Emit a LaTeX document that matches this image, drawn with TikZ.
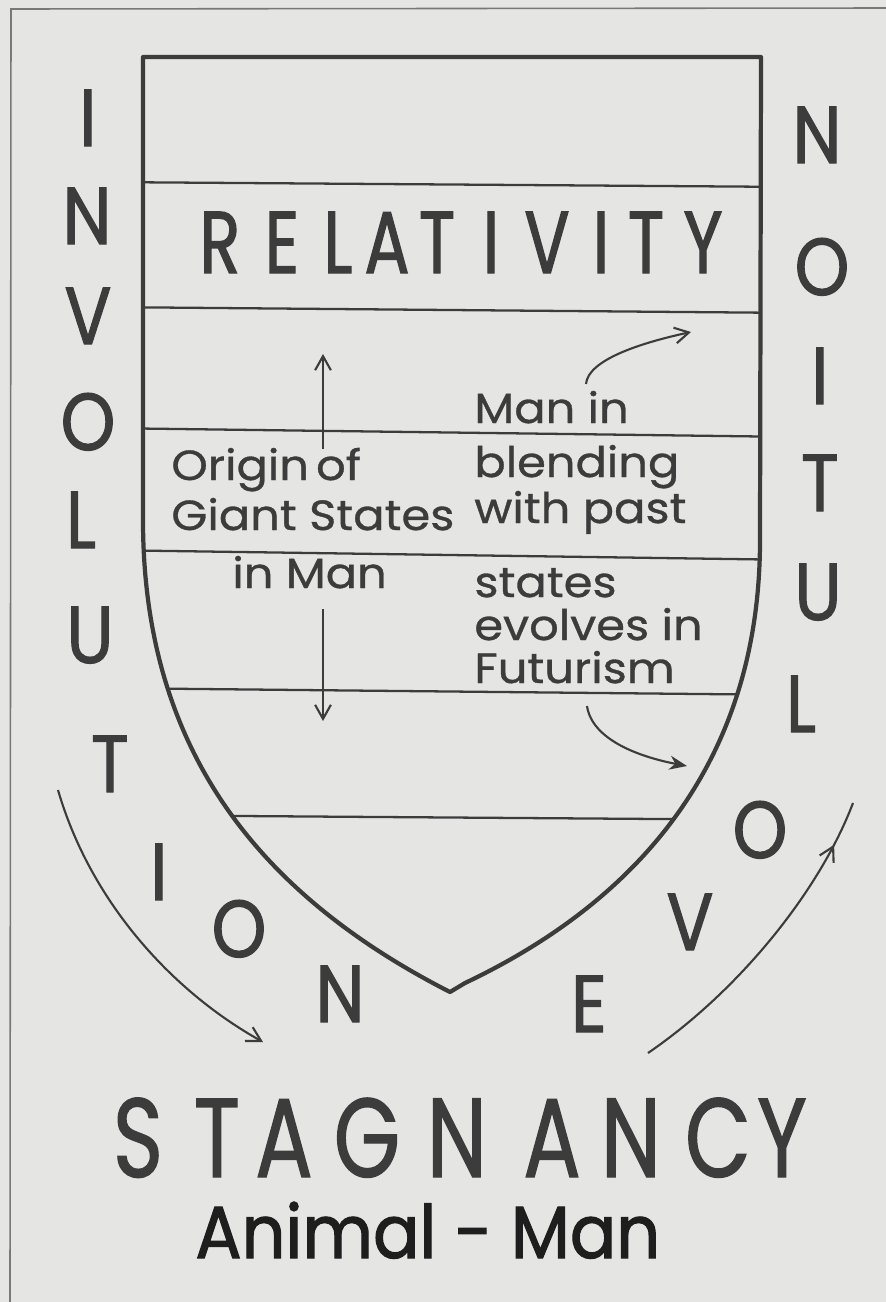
\documentclass[tikz,border=0pt]{standalone}
\usepackage{fontspec}
\usetikzlibrary{arrows.meta,decorations.markings}
\newfontfamily\handanim[FakeStretch=0.93,FakeBold=1.6]{Poppins}
\newfontfamily\handbody[FakeStretch=1.1,FakeBold=0.8]{Poppins}
\newfontfamily\capsinv[FakeStretch=0.86,FakeBold=1.4]{Poppins}
\newfontfamily\capsrel[FakeStretch=0.76,FakeBold=1.4]{Poppins}
\newfontfamily\capsstag[FakeStretch=0.76,FakeBold=1.0]{Poppins}
\definecolor{paper}{RGB}{229,230,227}
\definecolor{ink}{RGB}{60,60,60}
\definecolor{inkdark}{RGB}{30,30,30}
\definecolor{framegray}{RGB}{120,120,120}
\begin{document}
\begin{tikzpicture}[x=0.02cm,y=-0.02cm,
  bigletter/.style={font=\capsinv\fontsize{46}{46}\selectfont, text=ink, anchor=base, inner sep=0pt},
  relletter/.style={font=\capsrel\fontsize{50}{50}\selectfont, text=ink, anchor=base, inner sep=0pt},
  stagletter/.style={font=\capsstag\fontsize{64}{64}\selectfont, text=ink, anchor=base, inner sep=0pt},
  bodytext/.style={font=\handbody\fontsize{24}{24}\selectfont, text=ink, anchor=base west, inner sep=0pt},
  animtext/.style={font=\handanim\fontsize{42}{42}\selectfont, text=inkdark, anchor=base west, inner sep=0pt},
  shieldedge/.style={draw=ink, line width=2.4pt, line join=round},
  bandrule/.style={draw=ink, line width=1.3pt},
  barb/.style={draw=ink, line width=1.2pt, -{Straight Barb[length=8pt,width=9pt]}},
  solidtip/.style={draw=ink, line width=1.2pt, -{Stealth[length=10pt,width=8pt]}}]

\fill[paper] (0,0) rectangle (886,1302);
\useasboundingbox (0,0) rectangle (886,1302);

% page frame
\coordinate (fc) at (11,9);
\coordinate (fr) at (886,8);
\coordinate (fb) at (10,1302);
\draw[framegray, line width=0.9pt] (fr) -- (fc) -- (fb);

% bands inside the shield
\begin{scope}
  \clip (143,57) -- (761,57) -- (760,540) .. controls (760,760) and (640,900) .. (465,983)
        -- (450,992) .. controls (270,900) and (143,760) .. (143,520) -- cycle;
  \foreach \a/\b [count=\i] in {182/187,307/313,428/437,550/560,688/695,815/820}{
    \coordinate (bl\i) at (100,\a);
    \coordinate (br\i) at (800,\b);
    \draw[bandrule] (bl\i) -- (br\i);
  }
\end{scope}

% shield outline
\draw[shieldedge] (143,57) -- (761,57) -- (760,540) .. controls (760,760) and (640,900) .. (465,983)
        -- (450,992) .. controls (270,900) and (143,760) .. (143,520) -- cycle;

% RELATIVITY
\foreach \x/\l [count=\i] in {220/R,282/E,338/L,387/A,437/T,491/I,547/V,601/I,646/T,703/Y}{
  \node[relletter] (rel\i) at (\x,273) {\l};
}

% INVOLUTION (left and bottom)
\foreach \x/\y/\l [count=\i] in {88/146/I,87/244/N,88/344/V,88/450/O,81/548/L,90/663/U,110/792/T,159/900/I,239/957/O,340/1022/N}{
  \node[bigletter] (inv\i) at (\x,\y) {\l};
}
% EVOLUTION (bottom and right, read upwards)
\foreach \x/\y/\l [count=\i] in {589/1032/E,690/950/V,760/858/O,801/732/L,818/620/U,820/511/T,820/404/I,822/295/O,817/163/N}{
  \node[bigletter] (evo\i) at (\x,\y) {\l};
}

% STAGNANCY
\foreach \x/\l [count=\i] in {138/S,217/T,284/A,367/G,457/N,552/A,631/N,718/C,782/Y}{
  \node[stagletter] (stag\i) at (\x,1177) {\l};
}

% Animal - Man
\node[animtext] (animal) at (195,1258) {Animal - Man};

% texts in the shield
\node[bodytext] (t1) at (171,480) {Origin\hspace{-3pt} of};
\node[bodytext] (t2) at (171,530) {Giant States};
\node[bodytext] (t3) at (232,588) {in Man};
\node[bodytext] (m1) at (474,423) {Man in};
\node[bodytext] (m2) at (474,477) {blending};
\node[bodytext] (m3) at (474,523) {with past};
\node[bodytext] (m4) at (474,597) {states};
\node[bodytext] (m5) at (474,640) {evolves in};
\node[bodytext] (m6) at (474,683) {Futurism};

% vertical arrows
\coordinate (ua0) at (323,449);
\coordinate (ua1) at (323,354);
\draw[barb] (ua0) -- (ua1);
\coordinate (da0) at (323,609);
\coordinate (da1) at (323,721);
\draw[barb] (da0) -- (da1);

% small curved arrows
\coordinate (ca0) at (586,384);
\coordinate (ca1) at (691,332);
\draw[barb] (ca0) .. controls (588,360) and (640,343) .. (ca1);
\coordinate (cb0) at (587,706);
\coordinate (cb1) at (687,766);
\draw[solidtip] (cb0) .. controls (592,740) and (640,757) .. (cb1);

% big arcs
\coordinate (la0) at (58,790);
\coordinate (la1) at (263,1042);
\draw[barb] (la0) .. controls (90,900) and (170,990) .. (la1);
\coordinate (ra0) at (648,1053);
\coordinate (ra1) at (853,803);
\draw[draw=ink, line width=1.2pt,
  postaction={decorate},
  decoration={markings, mark=at position 0.86 with {\arrow[ink, line width=1.2pt]{Straight Barb[length=8pt,width=9pt]}}}]
  (ra0) .. controls (740,990) and (820,890) .. (ra1);

\end{tikzpicture}
\end{document}
